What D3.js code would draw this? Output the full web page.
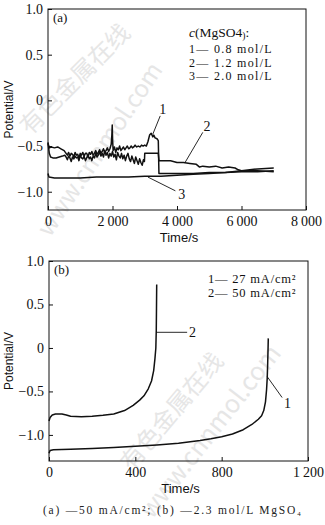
<!DOCTYPE html>
<html><head><meta charset="utf-8">
<script src="https://cdn.jsdelivr.net/npm/d3@7"></script>
<style>
html,body{margin:0;padding:0;background:#fff;}
svg{display:block;}
</style></head>
<body>
<svg id="c" width="325" height="525"></svg>
<script>
// ---------- DATA ----------
// Panel (a): potential vs time at -50 mA/cm2, three MgSO4 concentrations
const aSeries1 = [[0,-0.47],[40,-0.52],[100,-0.51],[200,-0.52],[300,-0.51],[400,-0.53],[500,-0.55],[560,-0.58],[600,-0.60],[640,-0.57],[680,-0.61],[720,-0.58],[760,-0.59],[800,-0.62],[840,-0.57],[880,-0.60],[920,-0.59],[960,-0.63],[1000,-0.58],[1040,-0.60],[1080,-0.57],[1120,-0.61],[1160,-0.58],[1200,-0.58],[1240,-0.62],[1280,-0.57],[1320,-0.59],[1360,-0.56],[1400,-0.60],[1440,-0.58],[1480,-0.55],[1520,-0.59],[1560,-0.57],[1600,-0.54],[1640,-0.58],[1680,-0.56],[1720,-0.53],[1760,-0.57],[1800,-0.55],[1840,-0.52],[1880,-0.56],[1920,-0.53],[1960,-0.48],[1980,-0.38],[1992,-0.27],[2004,-0.44],[2020,-0.55],[2060,-0.51],[2100,-0.57],[2140,-0.52],[2180,-0.54],[2220,-0.50],[2260,-0.55],[2300,-0.53],[2340,-0.51],[2380,-0.54],[2420,-0.52],[2460,-0.50],[2500,-0.53],[2540,-0.52],[2580,-0.50],[2620,-0.52],[2660,-0.51],[2700,-0.49],[2750,-0.51],[2800,-0.50],[2850,-0.51],[2900,-0.49],[2950,-0.50],[3000,-0.49],[3050,-0.50],[3100,-0.45],[3150,-0.38],[3200,-0.36],[3250,-0.40],[3280,-0.38],[3320,-0.41],[3380,-0.42],[3420,-0.44],[3440,-0.80],[3600,-0.80],[4000,-0.80],[4500,-0.80],[5000,-0.79],[5500,-0.79],[6000,-0.78],[6500,-0.78],[7000,-0.77]];
const aSeries2 = [[0,-0.46],[40,-0.58],[80,-0.62],[150,-0.63],[250,-0.63],[350,-0.62],[450,-0.61],[520,-0.60],[560,-0.62],[600,-0.65],[640,-0.61],[680,-0.63],[720,-0.67],[760,-0.62],[800,-0.64],[840,-0.61],[880,-0.63],[920,-0.62],[960,-0.66],[1000,-0.60],[1040,-0.63],[1080,-0.64],[1120,-0.61],[1160,-0.66],[1200,-0.63],[1240,-0.60],[1280,-0.64],[1320,-0.62],[1360,-0.66],[1400,-0.61],[1440,-0.63],[1480,-0.58],[1520,-0.62],[1560,-0.60],[1600,-0.56],[1640,-0.61],[1680,-0.58],[1720,-0.62],[1760,-0.55],[1800,-0.60],[1840,-0.57],[1880,-0.63],[1920,-0.58],[1960,-0.61],[2000,-0.56],[2040,-0.62],[2080,-0.59],[2120,-0.65],[2160,-0.57],[2200,-0.61],[2240,-0.63],[2280,-0.58],[2320,-0.64],[2360,-0.60],[2400,-0.66],[2440,-0.61],[2480,-0.58],[2520,-0.64],[2560,-0.67],[2600,-0.61],[2640,-0.65],[2680,-0.69],[2720,-0.62],[2760,-0.66],[2800,-0.70],[2840,-0.64],[2880,-0.68],[2920,-0.71],[2960,-0.65],[2990,-0.67],[3000,-0.58],[3100,-0.58],[3200,-0.58],[3300,-0.58],[3420,-0.58],[3440,-0.66],[3600,-0.66],[3800,-0.66],[4000,-0.68],[4200,-0.68],[4400,-0.69],[4600,-0.70],[4700,-0.73],[4800,-0.72],[5000,-0.73],[5200,-0.72],[5400,-0.74],[5600,-0.73],[5800,-0.74],[5900,-0.76],[6000,-0.77],[6500,-0.77],[7000,-0.78]];
const aSeries3 = [[0,-0.80],[30,-0.84],[200,-0.85],[500,-0.85],[1000,-0.85],[1500,-0.84],[2000,-0.84],[2500,-0.84],[3000,-0.83],[3500,-0.83],[4000,-0.82],[4500,-0.81],[5000,-0.80],[5500,-0.79],[6000,-0.77],[6500,-0.75],[7000,-0.74]];
const aLegendTitle = "c(MgSO4):";
const aLegend = ["1\u2014 0.8 mol/L","2\u2014 1.2 mol/L","3\u2014 2.0 mol/L"];
const aXTicks = [0,2000,4000,6000,8000];
const aXTickLabels = ["0","2\u2009000","4\u2009000","6\u2009000","8\u2009000"];
const aYTicks = [1.0,0.5,0,-0.5,-1.0];
// annotations: [label, labelT, labelV, fromT, fromV, toT, toV]
const aNotes = [["1",3560,-0.10,3480,-0.17,3250,-0.37],["2",4930,-0.28,4800,-0.35,4250,-0.68],["3",4150,-1.03,3950,-0.99,3100,-0.84]];

// Panel (b): potential vs time in 2.3 mol/L MgSO4 at two current densities
const bSeries1 = [[0,-1.21],[5,-1.18],[20,-1.17],[100,-1.165],[200,-1.155],[300,-1.145],[400,-1.13],[500,-1.115],[600,-1.095],[700,-1.065],[750,-1.045],[800,-1.02],[850,-0.99],[900,-0.94],[940,-0.88],[970,-0.82],[985,-0.78],[995,-0.72],[1003,-0.62],[1008,-0.48],[1011,-0.35],[1013,-0.20],[1015,0.0],[1016,0.11]];
const bSeries2 = [[0,-0.84],[5,-0.80],[15,-0.77],[30,-0.76],[60,-0.76],[80,-0.77],[100,-0.785],[150,-0.79],[200,-0.785],[250,-0.775],[300,-0.76],[350,-0.72],[390,-0.66],[420,-0.60],[440,-0.55],[460,-0.47],[475,-0.38],[485,-0.26],[491,-0.12],[495,0.0],[497,0.2],[498,0.45],[499,0.73]];
const bLegend = ["1\u2014 27 mA/cm\u00b2","2\u2014 50 mA/cm\u00b2"];
const bXTicks = [0,400,800,1200];
const bXTickLabels = ["0","400","800","1\u2009200"];
const bYTicks = [1.0,0.5,0,-0.5,-1.0];
const bNotes = [["1",1105,-0.63,1011,-0.33,1080,-0.57],["2",665,0.18,497,0.18,640,0.18]];

const caption = "(a) \u201450 mA/cm\u00b2; (b) \u20142.3 mol/L MgSO\u2084";

// ---------- DRAW ----------
const svg = d3.select("#c");
const serif = "'Liberation Serif','Times New Roman',serif";
const sans = "'Liberation Sans',Arial,sans-serif";

// faint watermark
const wm = svg.append("g").attr("fill","#e6e6e6").attr("font-family","'Noto Sans CJK SC',sans-serif");
[["有色金属在线",30,136,-45,24],["www.cnnmol.com",50,238,-56,24],["有色金属在线",132,472,-50,24],["www.cnnmol.com",152,520,-52,25]].forEach(w=>{
  wm.append("text").attr("transform",`translate(${w[1]},${w[2]}) rotate(${w[3]})`).attr("font-size",w[4]).text(w[0]);
});

function fmtY(v){ if(v===0) return "0"; const s=Math.abs(v).toFixed(1); return (v<0?"\u2212":"")+s; }

function panel(opt){
  const x = d3.scaleLinear().domain(opt.xd).range([opt.l,opt.r]);
  const y = d3.scaleLinear().domain(opt.yd).range([opt.b,opt.t]);
  const g = svg.append("g");
  g.append("rect").attr("x",opt.l).attr("y",opt.t).attr("width",opt.r-opt.l).attr("height",opt.b-opt.t)
    .attr("fill","none").attr("stroke","#111").attr("stroke-width",1);
  const yAx = d3.axisLeft(y).tickValues(opt.yTicks).tickFormat(fmtY).tickSizeInner(-4).tickSizeOuter(0).tickPadding(5);
  const ya = g.append("g").attr("transform",`translate(${opt.l},0)`).call(yAx);
  const xAx = d3.axisBottom(x).tickValues(opt.xTicks).tickFormat((d,i)=>opt.xLabels[i]).tickSizeInner(-4).tickSizeOuter(0).tickPadding(6);
  const xa = g.append("g").attr("transform",`translate(0,${opt.b})`).call(xAx);
  [ya,xa].forEach(a=>{
    a.select(".domain").remove();
    a.selectAll("line").attr("stroke","#111");
    a.selectAll("text").attr("font-family",serif).attr("font-size",14).attr("fill","#111");
  });
  const line = d3.line().x(d=>x(d[0])).y(d=>y(d[1]));
  opt.series.forEach(s=>{
    g.append("path").datum(s).attr("d",line).attr("fill","none").attr("stroke","#111")
      .attr("stroke-width",1.5).attr("stroke-linejoin","round");
  });
  opt.notes.forEach(n=>{
    g.append("line").attr("x1",x(n[3])).attr("y1",y(n[4])).attr("x2",x(n[5])).attr("y2",y(n[6]))
      .attr("stroke","#111").attr("stroke-width",0.9);
    g.append("text").attr("x",x(n[1])).attr("y",y(n[2])).attr("dy","0.35em").attr("text-anchor","middle")
      .attr("font-family",serif).attr("font-size",14).attr("fill","#111").text(n[0]);
  });
  g.append("text").attr("x",opt.l+5).attr("y",opt.t+13).attr("font-family",serif).attr("font-size",13).attr("fill","#111").text(opt.tag);
  g.append("text").attr("transform",`translate(13,${(opt.t+opt.b)/2}) rotate(-90)`).attr("text-anchor","middle")
    .attr("font-family",sans).attr("font-size",12).attr("fill","#111").text("Potential/V");
  g.append("text").attr("x",(opt.l+opt.r)/2+2).attr("y",opt.b+32).attr("text-anchor","middle")
    .attr("font-family",sans).attr("font-size",13).attr("fill","#111").text("Time/s");
  return {g,x,y};
}

const pa = panel({l:48,r:306,t:9,b:210,xd:[0,8000],yd:[-1.2,1.0],xTicks:aXTicks,xLabels:aXTickLabels,yTicks:aYTicks,
  series:[aSeries1,aSeries2,aSeries3],notes:aNotes,tag:"(a)"});
const pb = panel({l:49,r:308,t:261,b:461,xd:[0,1200],yd:[-1.3,1.0],xTicks:bXTicks,xLabels:bXTickLabels,yTicks:bYTicks,
  series:[bSeries1,bSeries2],notes:bNotes,tag:"(b)"});

// legend (a)
const la = pa.g.append("g").attr("font-family",serif).attr("font-size",12).attr("fill","#111");
const t0 = la.append("text").attr("x",189).attr("y",37).attr("font-size",13.5);
t0.append("tspan").attr("font-style","italic").text(aLegendTitle.slice(0,1));
t0.append("tspan").text(aLegendTitle.slice(1,7));
t0.append("tspan").attr("font-size",9.5).attr("dy",2).text(aLegendTitle.slice(7,8));
t0.append("tspan").attr("dy",-2).text(aLegendTitle.slice(8));
aLegend.forEach((s,i)=> la.append("text").attr("x",189).attr("y",53+i*13.5).attr("letter-spacing",1.3).text(s));

// legend (b)
const lb = pb.g.append("g").attr("font-family",serif).attr("font-size",12.5).attr("fill","#111");
bLegend.forEach((s,i)=>{
  lb.append("text").attr("x",208).attr("y",283+i*14).attr("letter-spacing",0.8).text(s);
});

// caption
svg.append("text").attr("x",43).attr("y",514).attr("font-family",serif).attr("font-size",11.5).attr("fill","#222")
  .attr("textLength",258).attr("lengthAdjust","spacing").text(caption);
</script>
</body></html>
